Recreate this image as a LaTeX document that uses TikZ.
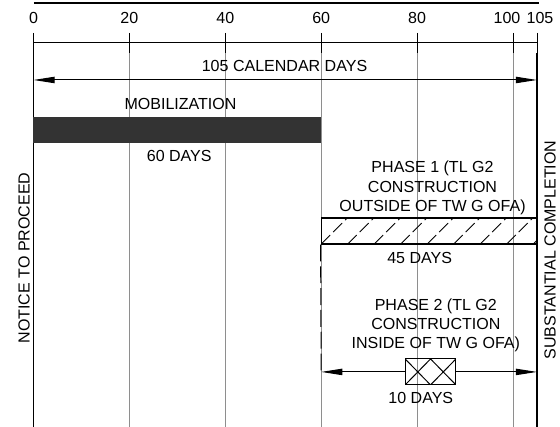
\documentclass[tikz,border=0pt]{standalone}
\usepackage{fontspec}
\setmainfont{Liberation Sans}
\usetikzlibrary{arrows.meta, fit}

\definecolor{barfill}{HTML}{333333}
\definecolor{gridgray}{HTML}{8E8E8E}

\tikzset{
  lbl/.style={font=\fontsize{11.4}{13.8}\selectfont, inner sep=0pt, align=center, anchor=base},
  sidelbl/.style={font=\fontsize{11.4}{13.8}\selectfont, inner sep=0pt, rotate=90},
  gridline/.style={gridgray, line width=0.5pt},
  thinline/.style={black, line width=0.7pt},
  edgeline/.style={black, line width=1.4pt},
  span/.style={thinline, {Triangle[length=15pt, width=4.5pt]}-{Triangle[length=15pt, width=4.5pt]}},
  halfspan/.style={thinline, -{Triangle[length=15pt, width=4.5pt]}},
  hatch/.style={black, line width=0.6pt, dash pattern=on 9pt off 3pt},
}

\begin{document}
\begin{tikzpicture}[x=0.119875cm, y=-0.025cm]
% x in days, y in pixels from the top
\useasboundingbox (-6.986,0) rectangle (109.8,427);

% Top rule
\draw[line width=1pt] (0.1,3) -- (105.4,3);

% Day scale
\draw[thinline] (0,43) -- (105,43);
\foreach \d/\lx in {0/0,20/20,40/40,60/60,80/80,100/98.75,105/105.63} {
  \node[lbl] (tick\d) at (\lx,23.3) {\d};
  \draw[thinline] (\d,33) -- (\d,53);
}

% Grid
\foreach \d in {20,40,60,80,100}
  \draw[gridline] (\d,53) -- (\d,427);
\draw[edgeline] (0,53) -- (0,427);
\draw[edgeline] (105,53) -- (105,427);

% Milestones
\node[sidelbl] (ntp) at (-1.98,258) {NOTICE TO PROCEED};
\node[sidelbl] (subcomp) at (107.72,250) {SUBSTANTIAL COMPLETION};

% Overall duration
\coordinate (cal0) at (0,80);
\coordinate (cal105) at (105,80);
\draw[span] (cal0) -- (cal105);
\node[lbl] (calendar) at (52.35,71.7) {105 CALENDAR DAYS};

% Mobilization
\node[lbl] (mobtxt) at (30.66,109.3) {MOBILIZATION};
\node[fill=barfill, inner sep=0pt, fit={(0,117.3) (60,143)}] (mob) {};
\node[lbl] (mobdays) at (30.39,161.7) {60 DAYS};

% Phase 1 (base = last line)
\node[lbl] (ph1txt) at (83.21,211.7) {PHASE 1 (TL G2\\CONSTRUCTION\\OUTSIDE OF TW G OFA)};
\begin{scope}
  \clip (60,218) rectangle (105,244);
  \foreach \k in {-1,...,9}
    \draw[hatch] ({60+5.53*\k},244) -- ++(5.42,-26);
\end{scope}
\node[draw, line width=0.9pt, inner sep=0pt, fit={(60,218) (105,244)}] (ph1) {};
\node[lbl] (ph1days) at (80.54,264) {45 DAYS};

% Phase 2
\node[lbl] (ph2txt) at (83.9,349) {PHASE 2 (TL G2\\CONSTRUCTION\\INSIDE OF TW G OFA)};
\node[draw, thinline, inner sep=0pt, fit={(77.5,359) (88.1,385)},
  path picture={
    \draw[thinline] (path picture bounding box.north west) -- (path picture bounding box.south)
      -- (path picture bounding box.north east);
    \draw[thinline] (path picture bounding box.south west) -- (path picture bounding box.north)
      -- (path picture bounding box.south east);
  }] (xbox) {};
\coordinate (ph2start) at (60,372);
\coordinate (ph2end) at (105,372);
\draw[halfspan] (xbox.west) -- (ph2start);
\draw[halfspan] (xbox.east) -- (ph2end);
\draw[thinline, dash pattern=on 12pt off 3.5pt] (ph1.south west) -- (ph2start);
\node[lbl] (ph2days) at (80.77,403.3) {10 DAYS};

\end{tikzpicture}
\end{document}
